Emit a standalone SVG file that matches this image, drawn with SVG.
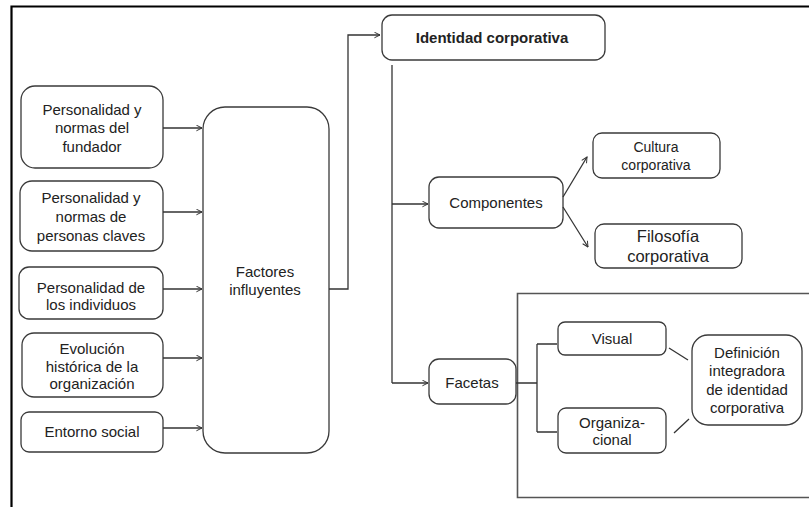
<svg xmlns="http://www.w3.org/2000/svg" width="809" height="507" viewBox="0 0 809 507">
<style>
.box{fill:#fff;stroke:#3a3a3a;stroke-width:1.3}
.t{font-family:"Liberation Sans",Arial,sans-serif;font-size:15px;fill:#222;text-anchor:middle}
.b{font-weight:bold}
.ln{fill:none;stroke:#333;stroke-width:1.3}
</style>
<defs>
<marker id="ar" viewBox="0 0 10 10" refX="9" refY="5" markerWidth="7" markerHeight="7" markerUnits="userSpaceOnUse" orient="auto">
<path d="M1,1 L9,5 L1,9" fill="none" stroke="#333" stroke-width="1.4"/>
</marker>
</defs>
<rect width="809" height="507" fill="#fff"/>
<path d="M11.5,507 V6.5 H809" fill="none" stroke="#000" stroke-width="2.2"/>
<path d="M809,293.5 H517.5 V497.5 H809" fill="none" stroke="#555" stroke-width="1.6"/>

<g id="n1"><rect class="box" x="21" y="86" width="142" height="82" rx="14"/>
<text class="t" x="92" y="115">Personalidad y</text><text class="t" x="92" y="133">normas del</text><text class="t" x="92" y="152">fundador</text></g>
<g id="n2"><rect class="box" x="20" y="181" width="143" height="70" rx="12"/>
<text class="t" x="91" y="203">Personalidad y</text><text class="t" x="91" y="222">normas de</text><text class="t" x="91" y="241">personas claves</text></g>
<g id="n3"><rect class="box" x="19" y="267" width="144" height="52" rx="10"/>
<text class="t" x="91" y="293">Personalidad de</text><text class="t" x="91" y="310">los individuos</text></g>
<g id="n4"><rect class="box" x="22" y="333" width="141" height="64" rx="12"/>
<text class="t" x="92" y="354">Evolución</text><text class="t" x="92" y="372">histórica de la</text><text class="t" x="92" y="389">organización</text></g>
<g id="n5"><rect class="box" x="21" y="412" width="142" height="40" rx="8"/>
<text class="t" x="92" y="437">Entorno social</text></g>
<g id="factores"><rect class="box" x="203" y="107" width="126" height="346" rx="22"/>
<text class="t" x="265" y="277">Factores</text><text class="t" x="265" y="295">influyentes</text></g>
<g id="identidad"><rect class="box" x="382" y="15" width="223" height="45" rx="10"/>
<text class="t b" x="492" y="43">Identidad corporativa</text></g>
<g id="componentes"><rect class="box" x="429" y="177" width="134" height="51" rx="10"/>
<text class="t" x="496" y="208">Componentes</text></g>
<g id="cultura"><rect class="box" x="593" y="133" width="127" height="45" rx="9"/>
<text class="t" x="656" y="152" style="font-size:14px">Cultura</text><text class="t" x="656" y="170" style="font-size:14px">corporativa</text></g>
<g id="filosofia"><rect class="box" x="595" y="224" width="147" height="44" rx="9"/>
<text class="t" x="668" y="242" style="font-size:16.5px">Filosofía</text><text class="t" x="668" y="262" style="font-size:16.5px">corporativa</text></g>
<g id="facetas"><rect class="box" x="429" y="359" width="87" height="45" rx="10"/>
<text class="t" x="472" y="388">Facetas</text></g>
<g id="visual"><rect class="box" x="558" y="322" width="108" height="33" rx="7"/>
<text class="t" x="612" y="344">Visual</text></g>
<g id="organizacional"><rect class="box" x="558" y="408" width="108" height="45" rx="8"/>
<text class="t" x="612" y="428">Organiza-</text><text class="t" x="612" y="445">cional</text></g>
<g id="definicion"><rect class="box" x="692" y="335" width="110" height="90" rx="16"/>
<text class="t" x="747" y="358">Definición</text><text class="t" x="747" y="376">integradora</text><text class="t" x="747" y="395">de identidad</text><text class="t" x="747" y="413">corporativa</text></g>

<g id="connectors" class="ln">
<path d="M163,128 H202" marker-end="url(#ar)"/>
<path d="M163,212 H202" marker-end="url(#ar)"/>
<path d="M163,289 H202" marker-end="url(#ar)"/>
<path d="M163,358 H202" marker-end="url(#ar)"/>
<path d="M163,428 H202" marker-end="url(#ar)"/>
<path d="M329,289 H348 V35 H380" marker-end="url(#ar)"/>
<path d="M392,65 V383"/>
<path d="M392,204 H428" marker-end="url(#ar)"/>
<path d="M392,383 H428" marker-end="url(#ar)"/>
<path d="M563,197 L587,157" marker-end="url(#ar)"/>
<path d="M563,207 L588,247" marker-end="url(#ar)"/>
<path d="M516,383 H537 M537,344 V432 M537,344 H557 M537,432 H557"/>
<path d="M669,348 L688,360"/>
<path d="M674,433 L689,419"/>
</g>
</svg>
